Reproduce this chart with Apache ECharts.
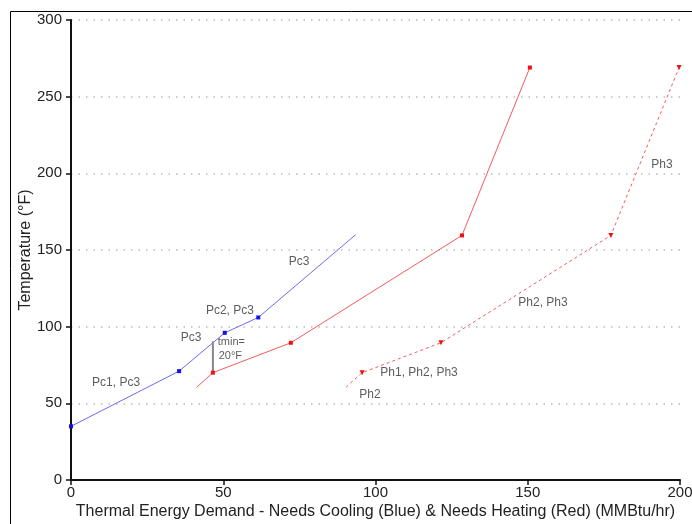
<!DOCTYPE html>
<html><head><meta charset="utf-8">
<script src="https://cdn.jsdelivr.net/npm/echarts@6/dist/echarts.min.js"></script>
<style>html,body{margin:0;padding:0;background:#fff}#c{width:692px;height:524px}</style>
</head><body><div id="c"></div>
<script>
const coolingX = [0, 35.5, 50.5, 61.5, 93.5];
const coolingY = [35, 71, 96, 106, 160];
const heatX = [41.3, 46.6, 72.2, 128.4, 150.7];
const heatY = [60.5, 70, 89.5, 159.5, 269];
const heatShiftX = [90.3, 95.6, 121.5, 177.3, 199.7];
const heatShiftY = [60.5, 70, 89.5, 159.5, 269];
const tminX = [46.6, 46.6];
const tminY = [70, 90.5];
const labelText = ['Pc1, Pc3', 'Pc3', 'Pc2, Pc3', 'Pc3', 'Ph1, Ph2, Ph3', 'Ph2', 'Ph2, Ph3', 'Ph3'];
const labelX = [14.8, 39.4, 52.2, 74.9, 114.3, 98.2, 155, 194.1];
const labelY = [63.3, 92.6, 110.2, 142.2, 69.8, 55.4, 115.5, 205.5];
const tminText = ['tmin=', '20°F'];
const tminLabelX = [48.2, 48.5];
const tminLabelY = [90, 80.9];
const xTicks = [0, 50, 100, 150, 200];
const yTicks = [0, 50, 100, 150, 200, 250, 300];

const font = 'Liberation Sans, Arial, sans-serif';
const withMarks = (xs, ys, hide) => xs.map((v, i) => hide.includes(i) ? {value: [v, ys[i]], symbol: 'none'} : {value: [v, ys[i]]});

const chart = echarts.init(document.getElementById('c'));
chart.setOption({
  animation: false,
  backgroundColor: '#fff',
  grid: {left: 71, right: 12, top: 20, bottom: 44, outerBoundsMode: 'none', containLabel: false},
  graphic: [{type: 'rect', shape: {x: 10.5, y: 11.5, width: 700, height: 600}, style: {fill: 'none', stroke: '#000', lineWidth: 1}, silent: true, z: -1}],
  xAxis: {
    type: 'value', min: 0, max: 200, interval: 50,
    name: 'Thermal Energy Demand - Needs Cooling (Blue) & Needs Heating (Red) (MMBtu/hr)',
    nameLocation: 'middle', nameGap: 24, nameMoveOverlap: false,
    nameTextStyle: {fontFamily: font, fontSize: 16, color: '#222'},
    axisLine: {lineStyle: {color: '#111', width: 2}},
    axisTick: {show: true, length: 5, lineStyle: {color: '#111', width: 1.5}},
    axisLabel: {fontFamily: font, fontSize: 15, color: '#222', margin: 5},
    splitLine: {show: false}
  },
  yAxis: {
    type: 'value', min: 0, max: 300, interval: 50,
    name: 'Temperature (°F)', nameLocation: 'middle', nameGap: 37, nameMoveOverlap: false,
    nameTextStyle: {fontFamily: font, fontSize: 16, color: '#222'},
    axisLine: {show: true, lineStyle: {color: '#111', width: 2}},
    axisTick: {show: true, length: 5, lineStyle: {color: '#111', width: 1.5}},
    axisLabel: {fontFamily: font, fontSize: 15, color: '#222', margin: 9},
    splitLine: {show: true, lineStyle: {color: '#bbb', type: [1.5, 6], width: 1.5}}
  },
  series: [
    {type: 'line', data: withMarks(coolingX, coolingY, [4]), symbol: 'rect', symbolSize: 4,
     lineStyle: {color: '#6b6bf5', width: 1}, itemStyle: {color: '#1010ee'}},
    {type: 'line', data: withMarks(heatX, heatY, [0]), symbol: 'rect', symbolSize: 4,
     lineStyle: {color: '#f55b5b', width: 1}, itemStyle: {color: '#ee1111'}},
    {type: 'line', data: withMarks(heatShiftX, heatShiftY, [0]), symbol: 'triangle', symbolRotate: 180, symbolSize: 5,
     lineStyle: {color: '#f55b5b', width: 1, type: [3, 3]}, itemStyle: {color: '#ee1111'}},
    {type: 'line', data: tminX.map((x, i) => [x, tminY[i]]), symbol: 'none',
     lineStyle: {color: '#888', width: 2}},
    {type: 'scatter', data: labelX.map((x, i) => ({value: [x, labelY[i]], name: labelText[i]})),
     symbolSize: 0, silent: true,
     label: {show: true, position: 'inside', formatter: p => p.name, fontFamily: font, fontSize: 12, color: '#333'}},
    {type: 'scatter', data: tminLabelX.map((x, i) => ({value: [x, tminLabelY[i]], name: tminText[i]})),
     symbolSize: 0, silent: true,
     label: {show: true, position: 'right', distance: 0, formatter: p => p.name, fontFamily: font, fontSize: 11, color: '#333'}}
  ]
});
</script></body></html>
